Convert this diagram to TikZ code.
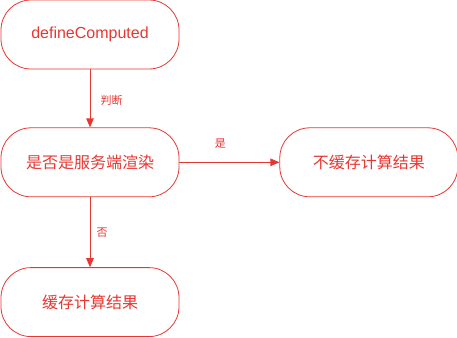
\documentclass[tikz,border=0pt]{standalone}
\usepackage{fontspec}
\setmainfont{Liberation Sans}
\newfontfamily\cjk{Noto Sans CJK SC}
\usetikzlibrary{positioning,arrows.meta}
\definecolor{flowred}{RGB}{230,55,50}
\begin{document}
\begin{tikzpicture}[x=1pt, y=-1pt, auto,
    block/.style={rectangle, draw=flowred, text=flowred, rounded corners=30pt, minimum width=178pt, minimum height=69pt, line width=0.8pt, font=\fontsize{16}{19}\selectfont},
    lbl/.style={text=flowred, font=\fontsize{11}{13}\cjk},
    arrow/.style={draw=flowred, line width=0.8pt, -{Triangle[length=9pt,width=7.5pt]}}]
    \useasboundingbox (0,0) rectangle (457,337);
    \node [block] (define) at (90,34.5) {defineComputed};
    \node [block, below=58pt of define] (ssr) {\cjk 是否是服务端渲染};
    \node [block, right=100pt of ssr] (nocache) {\cjk 不缓存计算结果};
    \node [block, below=70pt of ssr] (cache) {\cjk 缓存计算结果};
    \draw [arrow] (define) -- node[lbl, right, xshift=7pt, yshift=-2pt]{判断} (ssr);
    \draw [arrow] (ssr) -- node[lbl, above=10pt, xshift=-9pt]{是} (nocache);
    \draw [arrow] (ssr) -- node[lbl, right, xshift=3pt]{否} (cache);
\end{tikzpicture}
\end{document}
